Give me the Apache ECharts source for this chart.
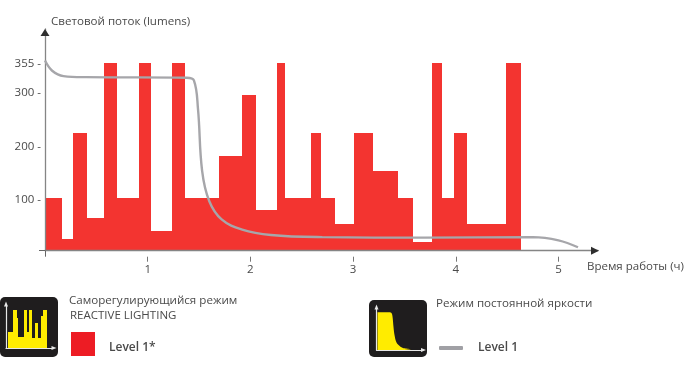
<!DOCTYPE html>
<html><head><meta charset="utf-8">
<style>html,body{margin:0;padding:0;background:#fff}#c{width:700px;height:372px}</style>
<script src="https://cdn.jsdelivr.net/npm/echarts@6/dist/echarts.min.js"></script>
</head><body><div id="c"></div>
<script>
const yTitle = 'Световой поток (lumens)';
const xTitle = 'Время работы (ч)';
const yTicks = [100, 200, 300, 355];
const xTicks = [1, 2, 3, 4, 5];
const barEdges = [0,0.166,0.273,0.409,0.574,0.701,0.915,1.032,1.232,1.368,1.699,1.923,2.055,2.259,2.337,2.59,2.692,2.827,3.012,3.197,3.434,3.586,3.765,3.863,3.982,4.106,4.486,4.635];
const barValues = [105,28,225,67,357,105,357,42,357,105,183,297,82,357,105,225,105,55,225,155,105,21,357,105,225,55,357];
const lineHours = [0,0.07,0.18,0.4,1.38,1.45,1.49,1.53,1.6,1.72,1.92,2.2,2.7,3.7,4.75,5.0,5.19];
const lineValues = [361,342,332,330,329,324,270,155,98,64,45,35,31,30,31,25,12];
const iconBarEdges = [2,6.7,10.7,12,18,20.7,23.3,25.7,29,32,34.7,37.3,41];
const iconBarValues = [37,88,70,26,88,37,88,23,58,23,74,88];
const iconCurveX = [1,13,15,16,17,18,20,24,28,34];
const iconCurveY = [90,90,88,80,55,36,18,8,4,2];
const seriesBars = 'Level 1*';
const seriesLine = 'Level 1';
const legendTitles = ['Саморегулирующийся режим', 'REACTIVE LIGHTING', 'Режим постоянной яркости'];

const FONT = '"Open Sans", sans-serif';
const TXT = '#4a4a4a', RED = '#f33430', GREY = '#a6a6aa', YEL = '#ffec00';

function spans(e, v){ return v.map((val,i)=>[e[i], e[i+1], val]); }
function pairs(a, b){ return a.map((x,i)=>[x, b[i]]); }
function blockItem(fill){
  return function(params, api){
    const a = api.coord([api.value(0), api.value(2)]);
    const b = api.coord([api.value(1), api.value(2)]);
    const bottom = params.coordSys.y + params.coordSys.height;
    const x0 = Math.round(a[0]), x1 = Math.round(b[0]), top = Math.round(a[1]);
    return {type:'rect', shape:{x:x0, y:top, width:x1-x0, height:bottom-top}, style:{fill:fill}};
  };
}
function iconAxis(max, gridIndex){
  return {type:'value', gridIndex, min:0, max, axisLabel:{show:false}, axisTick:{show:false}, splitLine:{show:false},
    axisLine:{show:true, onZero:false, lineStyle:{color:'#e8e8e8', width:1.2}, symbol:['none','triangle'], symbolSize:[4,5], symbolOffset:[0,1]}};
}

const chart = echarts.init(document.getElementById('c'), null, {renderer:'canvas'});
chart.setOption({
  animation:false,
  backgroundColor:'#fff',
  grid:[
    {left:45, top:29, width:553, height:221.7},
    {left:6, top:305, width:47, height:43},
    {left:376.5, top:308, width:46, height:42}
  ],
  xAxis:[
    {type:'value', gridIndex:0, min:0, max:5.385, z:5, splitLine:{show:false}, axisLabel:{show:false},
      axisLine:{onZero:false, lineStyle:{color:'#858585', width:1.3}},
      axisTick:{show:true, customValues:[0], length:6, lineStyle:{color:'#666', width:1}}},
    {type:'value', gridIndex:0, min:0, max:5.385, position:'bottom', offset:6, splitLine:{show:false},
      axisLine:{show:false, onZero:false},
      axisTick:{show:true, customValues:xTicks, length:5, lineStyle:{color:'#777', width:1}},
      axisLabel:{customValues:xTicks, margin:7, color:TXT, fontFamily:FONT, fontSize:11.5},
      name:xTitle, nameLocation:'end', nameGap:-11,
      nameTextStyle:{color:TXT, fontFamily:FONT, fontSize:11.5, align:'left', verticalAlign:'top', padding:[4,0,0,0]}},
    iconAxis(47,1),
    iconAxis(46,2)
  ],
  yAxis:[
    {type:'value', gridIndex:0, min:5.6, max:420, z:5, splitLine:{show:false},
      axisLine:{show:true, onZero:false, lineStyle:{color:'#858585', width:1.3}},
      axisTick:{show:true, customValues:[5.6], length:6, lineStyle:{color:'#666', width:1}},
      axisLabel:{customValues:yTicks, margin:4, color:TXT, fontFamily:FONT, fontSize:11.5, padding:[2,0,0,0], formatter:v=>v+' -'},
      name:yTitle, nameLocation:'end', nameGap:1,
      nameTextStyle:{color:TXT, fontFamily:FONT, fontSize:11.6, align:'left', padding:[0,0,0,6]}},
    iconAxis(100,1),
    iconAxis(100,2)
  ],
  legend:[
    {left:71, top:332, padding:0, itemWidth:24, itemHeight:24, data:[seriesBars], icon:'rect', selectedMode:false,
      itemStyle:{color:'#ed1c24'}, formatter:'{a|{name}}',
      textStyle:{rich:{a:{color:TXT, fontFamily:FONT, fontSize:12, fontWeight:600, padding:[8,0,0,9]}}}},
    {left:439, top:342, padding:0, itemWidth:24, itemHeight:4, data:[seriesLine], icon:'roundRect', selectedMode:false,
      itemStyle:{color:'#a0a0a5'}, textStyle:{color:TXT, fontFamily:FONT, fontSize:12, fontWeight:600, padding:[0,0,0,10]}}
  ],
  graphic:[
    {type:'polygon', z:10, shape:{points:[[45,29],[40.5,36],[49.5,36]]}, style:{fill:'#2e2e2e'}},
    {type:'polygon', z:10, shape:{points:[[599,250.7],[591,246.7],[591,254.7]]}, style:{fill:'#2e2e2e'}},
    {type:'rect', z:-10, shape:{x:0, y:297, width:58, height:60, r:5}, style:{fill:'#1f1d1e'}},
    {type:'rect', z:-10, shape:{x:369, y:300, width:58, height:57, r:5}, style:{fill:'#1f1d1e'}},
    {type:'text', left:69, top:295, style:{text:legendTitles[0], fill:TXT, font:'11.6px '+FONT}},
    {type:'text', left:70, top:310, style:{text:legendTitles[1], fill:TXT, font:'11.5px '+FONT}},
    {type:'text', left:436, top:298, style:{text:legendTitles[2], fill:TXT, font:'11.6px '+FONT}}
  ],
  series:[
    {name:seriesBars, type:'custom', xAxisIndex:0, yAxisIndex:0, z:2, renderItem:blockItem(RED), clip:true,
      encode:{x:[0,1], y:2}, itemStyle:{color:RED}, data:spans(barEdges, barValues)},
    {name:seriesLine, type:'line', xAxisIndex:0, yAxisIndex:0, z:6, showSymbol:false, symbol:'none', smooth:0.4,
      lineStyle:{color:GREY, width:2.4}, itemStyle:{color:GREY}, data:pairs(lineHours, lineValues)},
    {name:'icon bars', type:'custom', xAxisIndex:2, yAxisIndex:1, z:2, renderItem:blockItem(YEL), silent:true,
      encode:{x:[0,1], y:2}, data:spans(iconBarEdges, iconBarValues)},
    {name:'icon curve', type:'line', xAxisIndex:3, yAxisIndex:2, z:2, showSymbol:false, symbol:'none', smooth:0.3, silent:true,
      lineStyle:{width:0}, areaStyle:{color:YEL, opacity:1}, data:pairs(iconCurveX, iconCurveY)}
  ]
});
</script></body></html>
